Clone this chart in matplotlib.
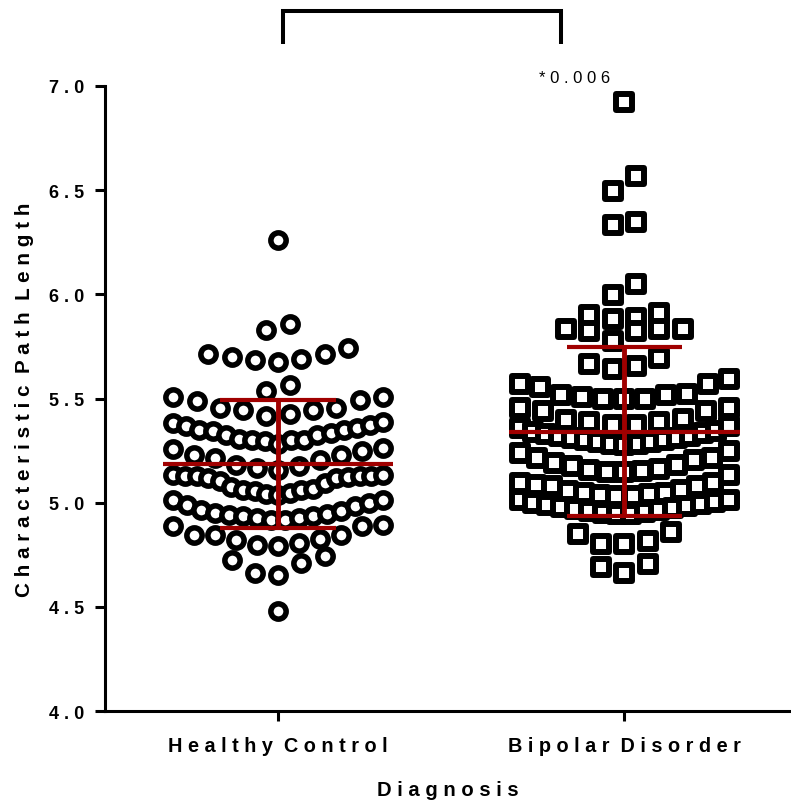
import numpy as np
import matplotlib
matplotlib.use("Agg")
import matplotlib.pyplot as plt

plt.rcParams["font.family"] = ["Liberation Sans", "DejaVu Sans"]

# ---- data ----
GROUPS = ["Healthy Control", "Bipolar Disorder"]

hc_values = [
    6.26,
    5.83, 5.86,
    5.715, 5.700, 5.684, 5.676, 5.691, 5.715, 5.744,
    5.535, 5.564,
    5.508, 5.492, 5.455, 5.444, 5.428, 5.415, 5.447, 5.455, 5.487, 5.508,
    5.386, 5.375, 5.359, 5.351, 5.335, 5.327, 5.303, 5.295, 5.280,
    5.303, 5.303, 5.306, 5.327, 5.343, 5.351, 5.367, 5.383,
    5.258, 5.231, 5.215, 5.183, 5.167, 5.159, 5.175, 5.207, 5.231, 5.250, 5.263,
    5.135, 5.130, 5.127, 5.124, 5.117, 5.095, 5.066, 5.059, 5.047, 5.038,
    5.043, 5.054, 5.062, 5.075, 5.102, 5.119, 5.127, 5.130, 5.135,
    5.014, 4.998, 4.982, 4.958, 4.942, 4.934, 4.926, 4.918,
    4.918, 4.926, 4.934, 4.947, 4.950, 4.966, 4.990, 5.014,
    4.893, 4.886, 4.846, 4.825, 4.806, 4.790, 4.798, 4.822, 4.846, 4.846, 4.889,
    4.726, 4.663, 4.654, 4.710, 4.745,
    4.48,
]

bd_values = [
    6.922,
    6.566, 6.497,
    6.332, 6.348,
    6.051, 5.995,
    5.899, 5.880, 5.888, 5.909,
    5.835, 5.824, 5.824, 5.832, 5.832, 5.776,
    5.668, 5.643, 5.655, 5.696,
    5.572, 5.556, 5.519, 5.508, 5.498, 5.498, 5.498, 5.519, 5.524, 5.572, 5.595,
    5.455, 5.439, 5.396, 5.387, 5.375, 5.375, 5.387, 5.403, 5.439, 5.455,
    5.367, 5.345, 5.335, 5.322, 5.310, 5.300, 5.290, 5.282, 5.276,
    5.280, 5.290, 5.300, 5.310, 5.318, 5.330, 5.340, 5.360,
    5.246, 5.216, 5.204, 5.183, 5.162, 5.150, 5.146, 5.148, 5.156, 5.178, 5.190, 5.214, 5.238,
    5.132, 5.095, 5.082, 5.063, 5.047, 5.039, 5.034, 5.034, 5.040, 5.047, 5.055, 5.079, 5.087, 5.095,
    5.014, 5.002, 4.995, 4.983, 4.975, 4.964, 4.955, 4.948,
    4.945, 4.952, 4.960, 4.970, 4.980, 4.990, 5.000, 5.011,
    4.850, 4.803, 4.803, 4.814, 4.857,
    4.707, 4.662, 4.691,
]

# row boundaries used by the scatter layout (Prism-style binned rows)
hc_row_edges = [4.56, 4.767, 4.908, 5.026, 5.147, 5.272, 5.40, 5.52, 5.62, 5.79, 6.0]
bd_row_edges = [4.75, 4.90, 5.024, 5.139, 5.26, 5.371, 5.476, 5.62, 5.74, 5.86, 5.95,
                6.2, 6.42, 6.7]

Y_TICKS = [4.0, 4.5, 5.0, 5.5, 6.0, 6.5, 7.0]
P_LABEL = "*0.006"

RED = "#A00000"


def spaced(text):
    # Prism-style letter spacing: one space between letters, two between words
    return "  ".join(" ".join(word) for word in text.split(" "))


def swarm_x(values, edges, center, step=0.0673, max_width=0.606):
    """Spread points of each row around the centre: lowest value in the middle."""
    values = np.asarray(values, dtype=float)
    x = np.full(len(values), float(center))
    rows = np.digitize(values, edges)
    for r in np.unique(rows):
        idx = np.where(rows == r)[0]
        n = len(idx)
        s = step if n < 2 else min(step, max_width / (n - 1))
        slots = (np.arange(n) - (n - 1) / 2) * s
        slot_order = np.argsort(np.abs(slots) + 1e-9 * slots, kind="stable")
        val_order = idx[np.argsort(values[idx], kind="stable")]
        x[val_order] = center + slots[slot_order]
    return x


fig = plt.figure(figsize=(7.91, 8.04), dpi=100)
ax = fig.add_axes([0.1327, 0.1144, 0.866, 0.7774])

groups = [
    (hc_values, hc_row_edges, "o", 11.0, 4.0),
    (bd_values, bd_row_edges, "s", 10.9, 4.3),
]
for i, (vals, edges, marker, ms, mew) in enumerate(groups):
    v = np.asarray(vals)
    x = swarm_x(v, edges, i)
    order = np.argsort(x, kind="stable")
    ax.scatter(x[order], v[order], s=ms ** 2, marker=marker, facecolors="white",
               edgecolors="black", linewidths=mew, zorder=3, clip_on=False)

    m = v.mean()
    sd = v.std(ddof=1)
    ax.hlines(m, i - 0.333, i + 0.333, color=RED, lw=3, zorder=5)
    ax.hlines([m - sd, m + sd], i - 0.167, i + 0.167, color=RED, lw=3, zorder=5)
    ax.vlines(i, m - sd, m + sd, color=RED, lw=3.5, zorder=5)

ax.set_xlim(-0.5, 1.478)
ax.set_ylim(4.0, 7.0)

for side in ("top", "right"):
    ax.spines[side].set_visible(False)
for side in ("left", "bottom"):
    ax.spines[side].set_linewidth(2.2)

ax.set_yticks(Y_TICKS)
ax.set_yticklabels([spaced(f"{t:.1f}") for t in Y_TICKS], fontsize=13, fontweight="bold")
ax.set_xticks([0, 1])
ax.set_xticklabels([spaced(g) for g in GROUPS], fontsize=14.3, fontweight="bold")
ax.tick_params(axis="both", length=7, width=2.2, pad=8)
ax.tick_params(axis="x", pad=11)

ax.set_ylabel(spaced("Characteristic Path Length"), fontsize=14.9, fontweight="bold",
              labelpad=11)
ax.set_xlabel(spaced("Diagnosis"), fontsize=14.6, fontweight="bold", labelpad=18)

# significance bracket
ax.plot([0.0144, 0.0144, 0.817, 0.817], [7.20, 7.36, 7.36, 7.20], color="black",
        lw=2.9, clip_on=False, solid_joinstyle="miter", solid_capstyle="butt")
ax.text(0.856, 7.043, spaced(P_LABEL), ha="center", va="center", fontsize=12,
        clip_on=False)

fig.savefig("out.png", dpi=100)
